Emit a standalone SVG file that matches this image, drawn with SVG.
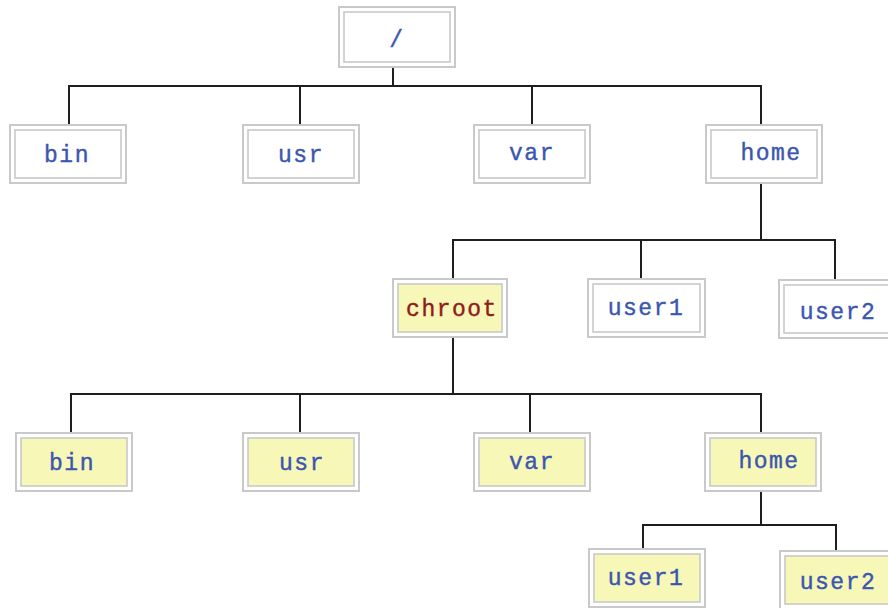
<svg xmlns="http://www.w3.org/2000/svg" width="888" height="608" viewBox="0 0 888 608">
  <style>
    .outer { fill: #ffffff; stroke: #c9c9c9; stroke-width: 2; }
    .inner { fill: #ffffff; stroke: #c9c9c9; stroke-width: 1.6; }
    .jail .inner { fill: #f7f7b8; }
    .label { font-family: "Liberation Mono", "Courier New", monospace; font-size: 23px; letter-spacing: 1.5px; fill: #3a56b0; stroke: #3a56b0; stroke-width: 0.4; text-anchor: middle; }
    .jail-root .label { fill: #8e1c1c; stroke: #8e1c1c; }
    .wire { fill: none; stroke: #1e1e1e; stroke-width: 2; }
  </style>

  <!-- connectors -->
  <g id="connectors">
    <path class="wire" d="M393 68 V86 M69 124 V86 H761 V124 M300 86 V124 M532 86 V124"/>
    <path class="wire" d="M761 184 V240 M453 278 V240 H835 V279 M641 240 V278"/>
    <path class="wire" d="M453 338 V394 M71 432 V394 H761 V432 M300 394 V432 M530 394 V432"/>
    <path class="wire" d="M761 492 V525 M643 548 V525 H836 V550"/>
  </g>

  <!-- level 0 -->
  <g id="root">
    <rect class="outer" x="339" y="7" width="116" height="60"/>
    <rect class="inner" x="344" y="12" width="106" height="50"/>
    <text class="label" x="397" y="47">/</text>
  </g>

  <!-- level 1 -->
  <g id="bin">
    <rect class="outer" x="10" y="125" width="116" height="58"/>
    <rect class="inner" x="15" y="130" width="106" height="48"/>
    <text class="label" x="67" y="162">bin</text>
  </g>
  <g id="usr">
    <rect class="outer" x="243" y="125" width="116" height="58"/>
    <rect class="inner" x="248" y="130" width="106" height="48"/>
    <text class="label" x="301" y="162">usr</text>
  </g>
  <g id="var">
    <rect class="outer" x="474" y="125" width="116" height="58"/>
    <rect class="inner" x="479" y="130" width="106" height="48"/>
    <text class="label" x="532" y="160">var</text>
  </g>
  <g id="home">
    <rect class="outer" x="706" y="125" width="116" height="58"/>
    <rect class="inner" x="711" y="130" width="106" height="48"/>
    <text class="label" x="771" y="160">home</text>
  </g>

  <!-- level 2 -->
  <g id="chroot" class="jail jail-root">
    <rect class="outer" x="393" y="279" width="114" height="58"/>
    <rect class="inner" x="398" y="284" width="104" height="48"/>
    <text class="label" x="452" y="316">chroot</text>
  </g>
  <g id="user1">
    <rect class="outer" x="588" y="279" width="117" height="58"/>
    <rect class="inner" x="593" y="284" width="107" height="48"/>
    <text class="label" x="646" y="315">user1</text>
  </g>
  <g id="user2">
    <rect class="outer" x="779" y="280" width="116" height="58"/>
    <rect class="inner" x="784" y="285" width="106" height="48"/>
    <text class="label" x="838" y="319">user2</text>
  </g>

  <!-- level 3 -->
  <g id="jail-bin" class="jail">
    <rect class="outer" x="16" y="433" width="116" height="58"/>
    <rect class="inner" x="21" y="438" width="106" height="48"/>
    <text class="label" x="72" y="470">bin</text>
  </g>
  <g id="jail-usr" class="jail">
    <rect class="outer" x="243" y="433" width="116" height="58"/>
    <rect class="inner" x="248" y="438" width="106" height="48"/>
    <text class="label" x="302" y="470">usr</text>
  </g>
  <g id="jail-var" class="jail">
    <rect class="outer" x="474" y="433" width="116" height="58"/>
    <rect class="inner" x="479" y="438" width="106" height="48"/>
    <text class="label" x="532" y="469">var</text>
  </g>
  <g id="jail-home" class="jail">
    <rect class="outer" x="705" y="433" width="116" height="58"/>
    <rect class="inner" x="710" y="438" width="106" height="48"/>
    <text class="label" x="769" y="468">home</text>
  </g>

  <!-- level 4 -->
  <g id="jail-user1" class="jail">
    <rect class="outer" x="589" y="549" width="116" height="58"/>
    <rect class="inner" x="594" y="554" width="106" height="48"/>
    <text class="label" x="646" y="585">user1</text>
  </g>
  <g id="jail-user2" class="jail">
    <rect class="outer" x="780" y="551" width="116" height="58"/>
    <rect class="inner" x="785" y="556" width="106" height="48"/>
    <text class="label" x="838" y="589">user2</text>
  </g>
</svg>
